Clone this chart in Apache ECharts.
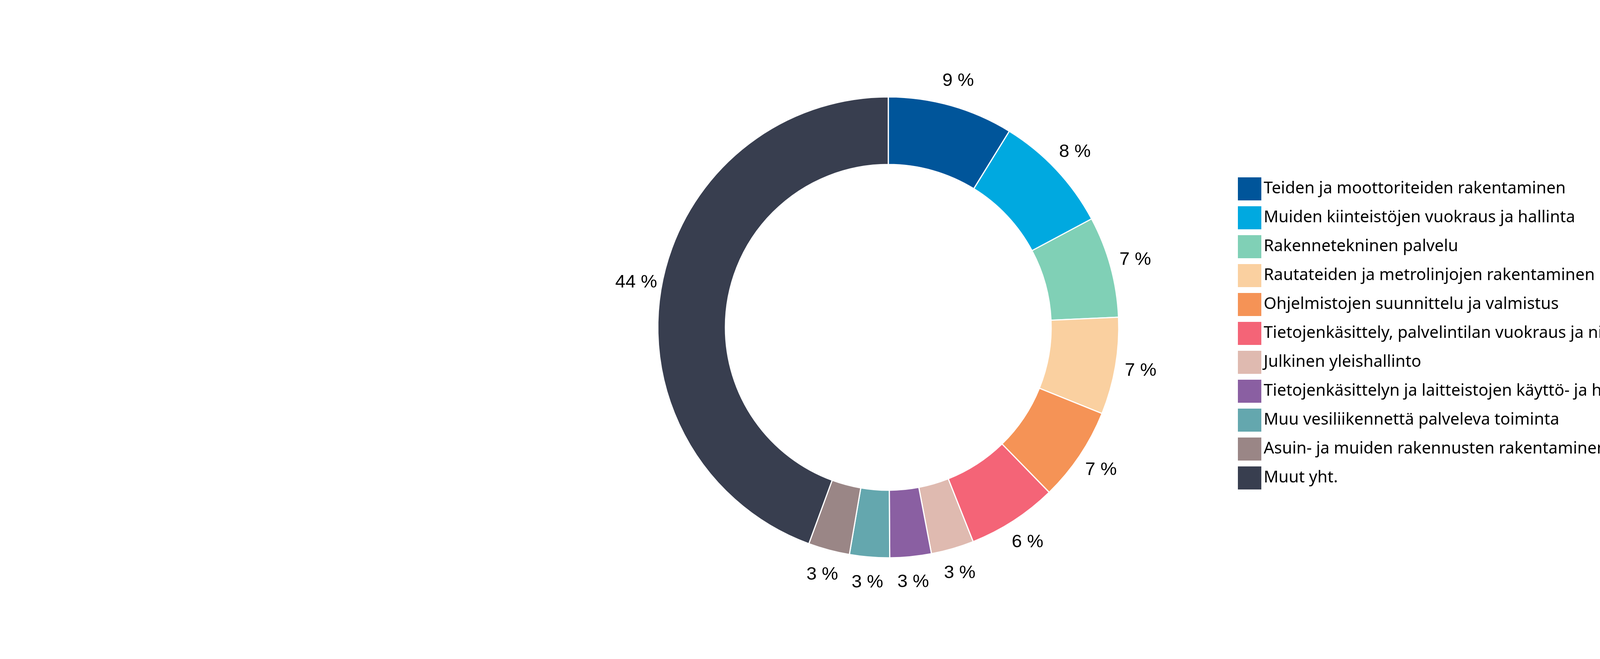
<!DOCTYPE html>
<html>
<head>
<meta charset="utf-8">
<script src="https://cdn.jsdelivr.net/npm/echarts@6/dist/echarts.min.js"></script>
<style>
  html, body { margin: 0; padding: 0; background: #fff; }
  #donitsi { width: 6000px; height: 1687px; }
</style>
</head>
<body>
<div id="donitsi"></div>
<script>
var toimialat = [
  "Teiden ja moottoriteiden rakentaminen",
  "Muiden kiinteistöjen vuokraus ja hallinta",
  "Rakennetekninen palvelu",
  "Rautateiden ja metrolinjojen rakentaminen",
  "Ohjelmistojen suunnittelu ja valmistus",
  "Tietojenkäsittely, palvelintilan vuokraus ja niihin liittyvät palvelut",
  "Julkinen yleishallinto",
  "Tietojenkäsittelyn ja laitteistojen käyttö- ja hallintapalvelut",
  "Muu vesiliikennettä palveleva toiminta",
  "Asuin- ja muiden rakennusten rakentaminen",
  "Muut yht."
];
var osuudet = [8.8, 8.4, 7.1, 6.8, 6.6, 6.3, 3.0, 2.9, 2.8, 2.9, 44.4];
var varit = ["#00559a", "#00a9e0", "#80d0b6", "#fad0a0", "#f59356", "#f46477",
             "#dfbab0", "#8a5fa2", "#64a7ae", "#9a8686", "#383e4f"];

var data = toimialat.map(function (nimi, i) {
  return { name: nimi, value: osuudet[i] };
});

var chart = echarts.init(document.getElementById("donitsi"));

var option = {
  animation: false,
  color: varit,
  legend: {
    orient: "vertical",
    left: 3162,
    top: 447,
    itemWidth: 62,
    itemHeight: 61,
    itemGap: 11,
    icon: "rect",
    textStyle: {
      fontFamily: "Noto Sans",
      fontSize: 42,
      color: "#000",
    },
    data: toimialat,
  },
  series: [
    {
      name: "Toimiala",
      type: "pie",
      center: [2274, 838],
      radius: [417, 590],
      startAngle: 90,
      clockwise: true,
      itemStyle: {
        borderColor: "#fff",
        borderWidth: 3,
      },
      label: { show: false },
      labelLine: { show: false },
      emphasis: { disabled: true },
      data: data,
    },
    {
      // pelkät prosenttitekstit renkaan ulkopuolelle
      name: "Osuus",
      type: "pie",
      silent: true,
      center: [2274, 838],
      radius: [590, 715],
      startAngle: 90,
      clockwise: true,
      itemStyle: { color: "rgba(0,0,0,0)" },
      label: {
        show: true,
        position: "inside",
        fontFamily: "Liberation Sans",
        fontSize: 47,
        color: "#000",
        formatter: function (p) {
          return Math.round(p.value) + " %";
        },
      },
      labelLine: { show: false },
      data: data,
    },
  ],
};

chart.setOption(option);
</script>
</body>
</html>
